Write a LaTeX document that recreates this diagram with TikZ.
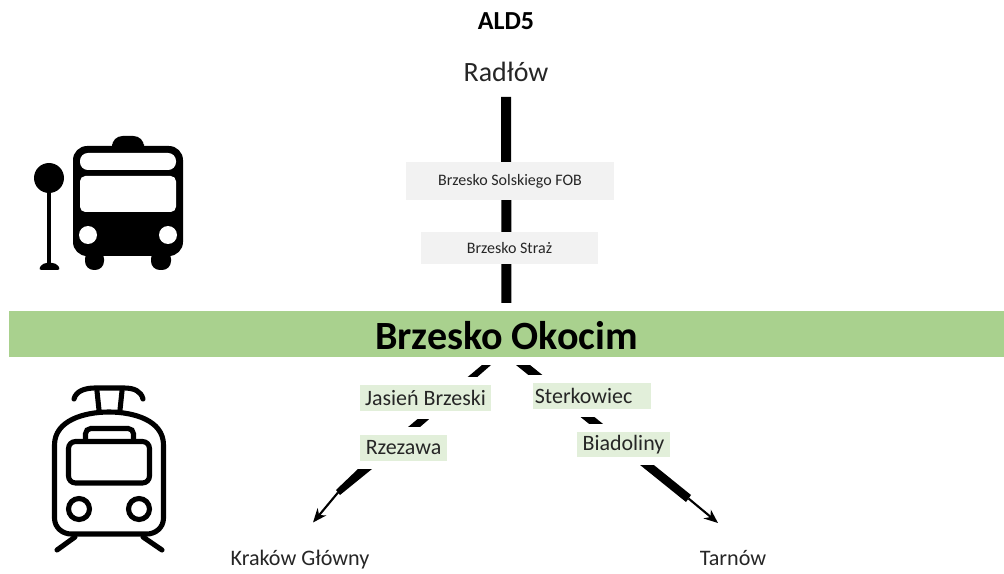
\documentclass[tikz,border=0pt]{standalone}
\usepackage{fontspec}
\setmainfont{Carlito}
\usetikzlibrary{arrows.meta}
\definecolor{bandgreen}{HTML}{A9D18E}
\definecolor{stopgreen}{HTML}{E2EFDA}
\definecolor{stopgrey}{HTML}{F2F2F2}
\tikzset{
  trackline/.style={line width=5.7pt},
  pointer/.style={line width=1.2pt,-{Stealth[length=8pt,width=6.5pt]}},
  busstop/.style={fill=stopgrey,text=black!85,font=\fontsize{9.1}{10}\selectfont,inner sep=0pt},
  trainstop/.style={fill=stopgreen,text=black!85,font=\fontsize{12.5}{14}\selectfont,inner sep=0pt,
    preaction={draw=white,line width=9pt}},
  endstop/.style={text=black!85,font=\fontsize{12.6}{14}\selectfont},
  icon/.style={line width=2.9pt,line cap=round},
}
\begin{document}
\begin{tikzpicture}[x=0.02cm,y=-0.02cm]
      \useasboundingbox (0,0) rectangle (1004,574);

      %draw labels
      \node[font=\fontsize{14.8}{16}\selectfont\bfseries] (line) at (506,21.5) {ALD5};
      \node[text=black!85,font=\fontsize{15.9}{18}\selectfont] (radlow) at (506,72) {Radłów};
      \node[fill=bandgreen,minimum width=566.2pt,minimum height=26.1pt,inner sep=0pt,text height=18pt,text depth=0pt,
        font=\fontsize{22.8}{24}\selectfont\bfseries] (okocim) at (506.5,334) {Brzesko Okocim};
      \node[endstop] (krakow) at (300,559.5) {Kraków Główny};
      \node[endstop] (tarnow) at (733,558) {Tarnów};

      %draw tracks
      \coordinate (leftstarta) at (482,365);
      \coordinate (leftstartb) at (491,365);
      \coordinate (leftmida) at (358,469);
      \coordinate (leftmidb) at (372,469);
      \coordinate (leftenda) at (336,490);
      \coordinate (leftendb) at (340,495);
      \coordinate (lefttip) at (313,522.5);
      \coordinate (rightstarta) at (516,365);
      \coordinate (rightstartb) at (530,365);
      \coordinate (rightenda) at (686,502);
      \coordinate (rightendb) at (691,495);
      \coordinate (righttip) at (718,523);
      \draw[trackline,shorten <=5pt,shorten >=4.5pt] (radlow.south) -- (okocim.north);
      \fill (leftstarta) -- (leftstartb) -- (leftmidb) -- (leftendb) -- (leftenda) -- (leftmida) -- cycle;
      \fill (rightstarta) -- (rightstartb) -- (rightendb) -- (rightenda) -- cycle;
      \draw[pointer] (338,492.5) -- (lefttip); %thin ends
      \draw[pointer] (688.5,498.5) -- (righttip);

      %draw stops
      \node[busstop,minimum width=118.4pt,minimum height=21.6pt] (solskiego) at (510,181) {Brzesko Solskiego FOB};
      \node[busstop,minimum width=100.7pt,minimum height=18.2pt] (straz) at (509.5,248) {Brzesko Straż};
      \node[trainstop,minimum width=74.5pt,minimum height=14.8pt] (jasien) at (425.5,398) {Jasień Brzeski};
      \node[trainstop,minimum width=67pt,minimum height=14.8pt,text width=65pt,align=left] (sterkowiec) at (592,396) {Sterkowiec};
      \node[trainstop,minimum width=49.5pt,minimum height=14.8pt] (rzezawa) at (403.5,448) {Rzezawa};
      \node[trainstop,minimum width=53pt,minimum height=14.2pt] (biadoliny) at (623.5,444.5) {Biadoliny};

      %draw bus icon
      \fill[rounded corners=8pt] (73,146) rectangle (183,256);
      \fill[rounded corners=6pt] (112,155) -- (112,136) -- (144,136) -- (144,155) -- cycle;
      \fill[white,rounded corners=4.5pt] (80,153) rectangle (176,170);
      \fill[white,rounded corners=3pt] (80,176) rectangle (176,212);
      \fill[white] (88,235) circle[radius=9];
      \fill[white] (168,235) circle[radius=9];
      \fill[rounded corners=5pt] (85,250) -- (85,270) -- (104,270) -- (104,250) -- cycle;
      \fill[rounded corners=5pt] (151,250) -- (151,270) -- (171,270) -- (171,250) -- cycle;
      \fill (49,178) circle[radius=15];
      \fill (46.7,178) rectangle (51.3,268);
      \fill[rounded corners=2pt] (38,270) -- (43,263) -- (56,263) -- (61,270) -- cycle;

      %draw train icon
      \draw[icon] (54.5,445) .. controls (54.5,420) and (85,412) .. (109,412)
        .. controls (133,412) and (163.5,420) .. (163.5,445) -- (163.5,518)
        .. controls (163.5,528) and (155,534) .. (147,534) -- (71,534)
        .. controls (63,534) and (54.5,528) .. (54.5,518) -- cycle;
      \draw[icon,rounded corners=4pt] (68.5,441.5) rectangle (149.5,483);
      \draw[icon,rounded corners=3pt] (85.5,441) -- (85.5,428.5) -- (133.5,428.5) -- (133.5,441);
      \draw[icon] (79,509) circle[radius=10.5];
      \draw[icon] (139,509) circle[radius=10.5];
      \draw[icon] (75,537) -- (57,550);
      \draw[icon] (143,537) -- (162,550);
      \draw[icon] (97,391) -- (99,410);
      \draw[icon] (122,391) -- (120,410);
      \draw[icon] (74,399) .. controls (76,391) and (85,388) .. (95,388) -- (124,388)
        .. controls (134,388) and (141,391) .. (143,399);
\end{tikzpicture}
\end{document}
